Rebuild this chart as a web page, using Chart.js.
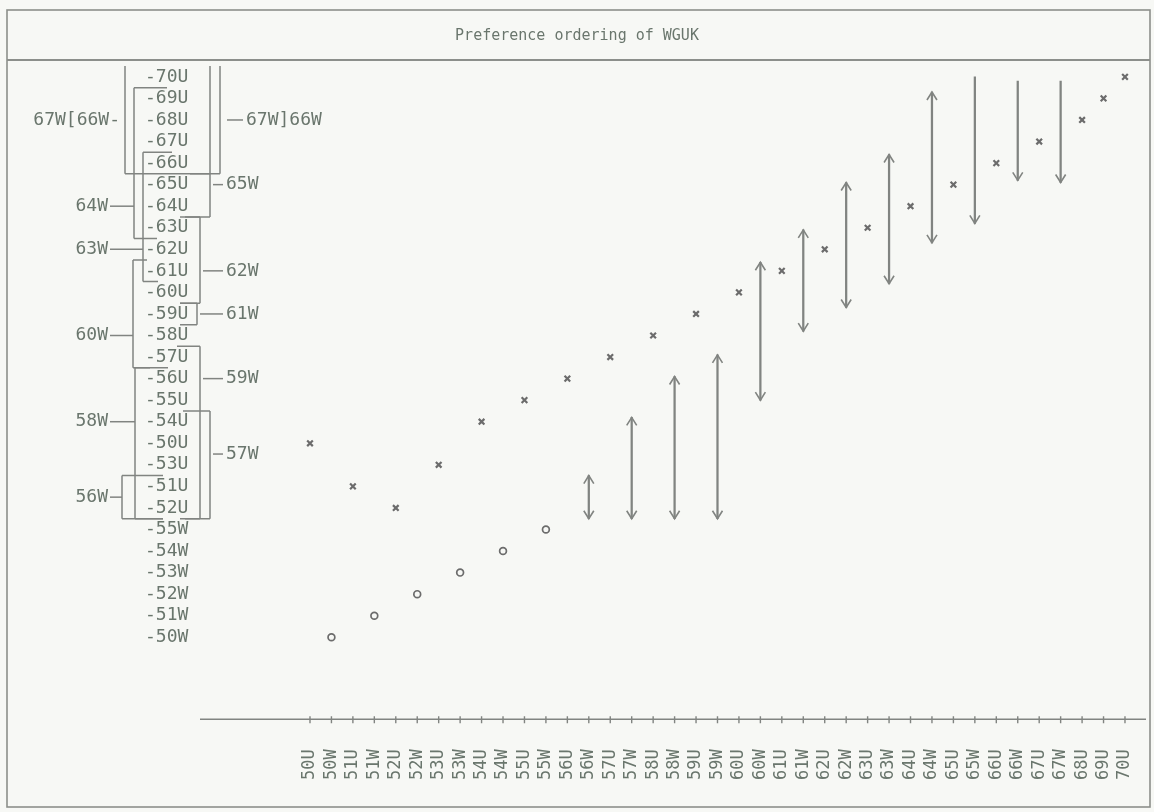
<!DOCTYPE html>
<html>
<head>
<meta charset="utf-8">
<title>Preference ordering of WGUK</title>
<script src="https://cdn.jsdelivr.net/npm/chart.js@4.4.1/dist/chart.umd.min.js"></script>
<style>
  html, body { margin: 0; padding: 0; background: #f7f8f5; }
  #wrap { width: 1154px; height: 812px; position: relative; }
</style>
</head>
<body>
<div id="wrap"><canvas id="prefChart" width="1154" height="812"></canvas></div>
<script>
// Categories along the x axis, in printed order
const categories = ['50U','50W','51U','51W','52U','52W','53U','53W','54U','54W','55U','55W',
  '56U','56W','57U','57W','58U','58W','59U','59W','60U','60W','61U','61W','62U','62W',
  '63U','63W','64U','64W','65U','65W','66U','66W','67U','67W','68U','69U','70U'];

// Rank in the ordering (1 = bottom of the ladder, 27 = top)
const uYears = ['50U','51U','52U','53U','54U','55U','56U','57U','58U','59U','60U',
  '61U','62U','63U','64U','65U','66U','67U','68U','69U','70U'];
const uRanks = [10, 8, 7, 9, 11, 12, 13, 14, 15, 16, 17, 18, 19, 20, 21, 22, 23, 24, 25, 26, 27];

const wYears = ['50W','51W','52W','53W','54W','55W'];
const wRanks = [1, 2, 3, 4, 5, 6];

// W years shown as ranges (arrows)
const arrowYears = ['56W','57W','58W','59W','60W','61W','62W','63W','64W','65W','66W','67W'];
const arrowLow  = [6.5, 6.5, 6.5, 6.5, 12.0, 15.2, 16.3, 17.4, 19.3, 20.2, 22.2, 22.1];
const arrowHigh = [8.5, 11.2, 13.1, 14.1, 18.4, 19.9, 22.1, 23.4, 26.3, 27.0, 26.8, 26.8];
const arrowUpHead = [true, true, true, true, true, true, true, true, true, false, false, false];

// Ladder on the left, top to bottom
const ladderRows = ['-70U','-69U','-68U','-67U','-66U','-65U','-64U','-63U','-62U','-61U',
  '-60U','-59U','-58U','-57U','-56U','-55U','-54U','-50U','-53U','-51U','-52U',
  '-55W','-54W','-53W','-52W','-51W','-50W'];

// Brackets beside the ladder
const bracketLabels = ['67W[66W-', '', '67W]66W', '64W', '63W', '60W', '58W', '56W',
  '65W', '62W', '61W', '59W', '57W'];
const bracketLow  = [22.5, 22.5, 22.5, 19.5, 17.5, 13.5, 6.5, 6.5, 20.5, 16.5, 15.5, 6.5, 6.5];
const bracketHigh = [27.5, 27.5, 27.5, 26.5, 23.5, 18.5, 13.5, 8.5, 22.5, 20.5, 16.5, 14.5, 11.5];
const bracketRow  = [25, null, 25, 21, 19, 15, 11, 7.5, 22, 18, 16, 13, 9.5];

// where each bracket sits (pixels), and how far its top / bottom strokes reach
const bracketLayout = [
  { side: 'left',  x: 125, topTo: null, bottomTo: 220 },
  { side: 'right', x: 210, topTo: null, bottomTo: null },
  { side: 'right', x: 220, topTo: null, bottomTo: null },
  { side: 'left',  x: 134, topTo: 167, bottomTo: 157 },
  { side: 'left',  x: 143, topTo: 172, bottomTo: 158 },
  { side: 'left',  x: 133, topTo: 147, bottomTo: 168 },
  { side: 'left',  x: 135, topTo: 150, bottomTo: 163 },
  { side: 'left',  x: 122, topTo: 163, bottomTo: 163 },
  { side: 'right', x: 210, topTo: 190, bottomTo: 180 },
  { side: 'right', x: 200, topTo: 185, bottomTo: 180 },
  { side: 'right', x: 197, topTo: 180, bottomTo: 180 },
  { side: 'right', x: 200, topTo: 177, bottomTo: 180 },
  { side: 'right', x: 210, topTo: 183, bottomTo: 185 }
];

const ink = '#6a766d';
const markInk = '#6c6c6c';
const lineInk = '#818481';
const mono = '"DejaVu Sans Mono", monospace';

// Paper, frame and title band
const paperPlugin = {
  id: 'paper',
  beforeDraw(chart) {
    const c = chart.ctx;
    c.save();
    c.fillStyle = '#f7f8f5';
    c.fillRect(0, 0, chart.width, chart.height);
    c.strokeStyle = '#8c8f8b';
    c.lineWidth = 1.6;
    c.strokeRect(7, 10, 1143, 797);
    c.lineWidth = 2;
    c.beginPath();
    c.moveTo(7, 60);
    c.lineTo(1150, 60);
    c.stroke();
    c.restore();
  }
};

// Ladder, axis line with crossing ticks, arrow heads
const annotatePlugin = {
  id: 'annotate',
  afterDraw(chart) {
    const c = chart.ctx;
    const xs = chart.scales.x;
    const ys = chart.scales.y;
    c.save();

    // axis line
    const axisY = chart.chartArea.bottom;
    c.strokeStyle = lineInk;
    c.lineWidth = 1.4;
    c.beginPath();
    c.moveTo(200, axisY);
    c.lineTo(1146, axisY);
    categories.forEach((cat, i) => {
      const px = xs.getPixelForValue(i);
      c.moveTo(px, axisY - 3);
      c.lineTo(px, axisY + 4);
    });
    c.stroke();

    // arrow heads
    c.strokeStyle = lineInk;
    c.lineWidth = 1.6;
    arrowYears.forEach((yr, i) => {
      const px = xs.getPixelForValue(categories.indexOf(yr));
      const top = ys.getPixelForValue(arrowHigh[i]);
      const bot = ys.getPixelForValue(arrowLow[i]);
      c.beginPath();
      if (arrowUpHead[i]) {
        c.moveTo(px - 5, top + 8); c.lineTo(px, top); c.lineTo(px + 5, top + 8);
      }
      c.moveTo(px - 5, bot - 8); c.lineTo(px, bot); c.lineTo(px + 5, bot - 8);
      c.stroke();
    });

    // ladder text
    c.fillStyle = ink;
    c.font = '18px ' + mono;
    c.textBaseline = 'middle';
    c.textAlign = 'left';
    ladderRows.forEach((lab, i) => {
      const rank = ladderRows.length - i;
      c.fillText(lab, 145, ys.getPixelForValue(rank));
    });

    // brackets
    c.strokeStyle = lineInk;
    c.lineWidth = 1.5;
    bracketLabels.forEach((lab, i) => {
      const lay = bracketLayout[i];
      const yTop = ys.getPixelForValue(bracketHigh[i]);
      const yBot = ys.getPixelForValue(bracketLow[i]);
      c.beginPath();
      c.moveTo(lay.x, yTop);
      c.lineTo(lay.x, yBot);
      if (lay.topTo !== null) { c.moveTo(lay.x, yTop); c.lineTo(lay.topTo, yTop); }
      if (lay.bottomTo !== null) { c.moveTo(lay.x, yBot); c.lineTo(lay.bottomTo, yBot); }
      c.stroke();
      if (bracketRow[i] === null || !lab) return;
      const ly = ys.getPixelForValue(bracketRow[i]);
      if (lay.side === 'left') {
        c.textAlign = 'right';
        if (lab.length > 4) {
          c.fillText(lab, 120, ly);
        } else {
          c.fillText(lab, 108, ly);
          c.beginPath(); c.moveTo(110, ly); c.lineTo(lay.x, ly); c.stroke();
        }
      } else {
        c.textAlign = 'left';
        if (lab.length > 4) {
          c.beginPath(); c.moveTo(lay.x + 7, ly); c.lineTo(lay.x + 23, ly); c.stroke();
          c.fillText(lab, 246, ly);
        } else {
          c.beginPath(); c.moveTo(lay.x + 3, ly); c.lineTo(223, ly); c.stroke();
          c.fillText(lab, 226, ly);
        }
      }
    });
    c.restore();
  }
};

const ctx = document.getElementById('prefChart').getContext('2d');
new Chart(ctx, {
  type: 'scatter',
  data: {
    datasets: [
      {
        type: 'bar',
        label: 'W ranges',
        data: arrowYears.map((yr, i) => ({ x: categories.indexOf(yr), y: [arrowLow[i], arrowHigh[i]] })),
        backgroundColor: lineInk,
        barThickness: 1.6,
        borderWidth: 0
      },
      {
        label: 'U',
        data: uYears.map((yr, i) => ({ x: categories.indexOf(yr), y: uRanks[i] })),
        pointStyle: 'crossRot',
        pointRadius: 4,
        borderWidth: 2.2,
        borderColor: markInk,
        backgroundColor: markInk
      },
      {
        label: 'W',
        data: wYears.map((yr, i) => ({ x: categories.indexOf(yr), y: wRanks[i] })),
        pointStyle: 'circle',
        pointRadius: 3.4,
        borderWidth: 1.7,
        borderColor: markInk,
        backgroundColor: 'rgba(0,0,0,0)'
      }
    ]
  },
  options: {
    responsive: false,
    animation: false,
    events: [],
    layout: { autoPadding: false, padding: { left: 0, right: 0, top: 0, bottom: 10 } },
    plugins: {
      legend: { display: false },
      tooltip: { enabled: false },
      title: {
        display: true,
        text: 'Preference ordering of WGUK',
        color: ink,
        font: { family: mono, size: 15, weight: 'normal' },
        padding: { top: 27, bottom: 17 }
      }
    },
    scales: {
      x: {
        type: 'linear',
        offset: false,
        min: -14.454,
        max: 39.353,
        grid: { display: false, offset: false },
        border: { display: false },
        afterBuildTicks: (axis) => { axis.ticks = categories.map((c, i) => ({ value: i })); },
        afterFit: (axis) => { axis.paddingLeft = 0; axis.paddingRight = 0; },
        ticks: {
          autoSkip: false,
          minRotation: 90,
          maxRotation: 90,
          padding: 22,
          color: ink,
          font: { family: mono, size: 17 },
          callback: (v) => categories[v]
        }
      },
      y: {
        display: false,
        min: -2.807,
        max: 27.69
      }
    }
  },
  plugins: [paperPlugin, annotatePlugin]
});
</script>
</body>
</html>
